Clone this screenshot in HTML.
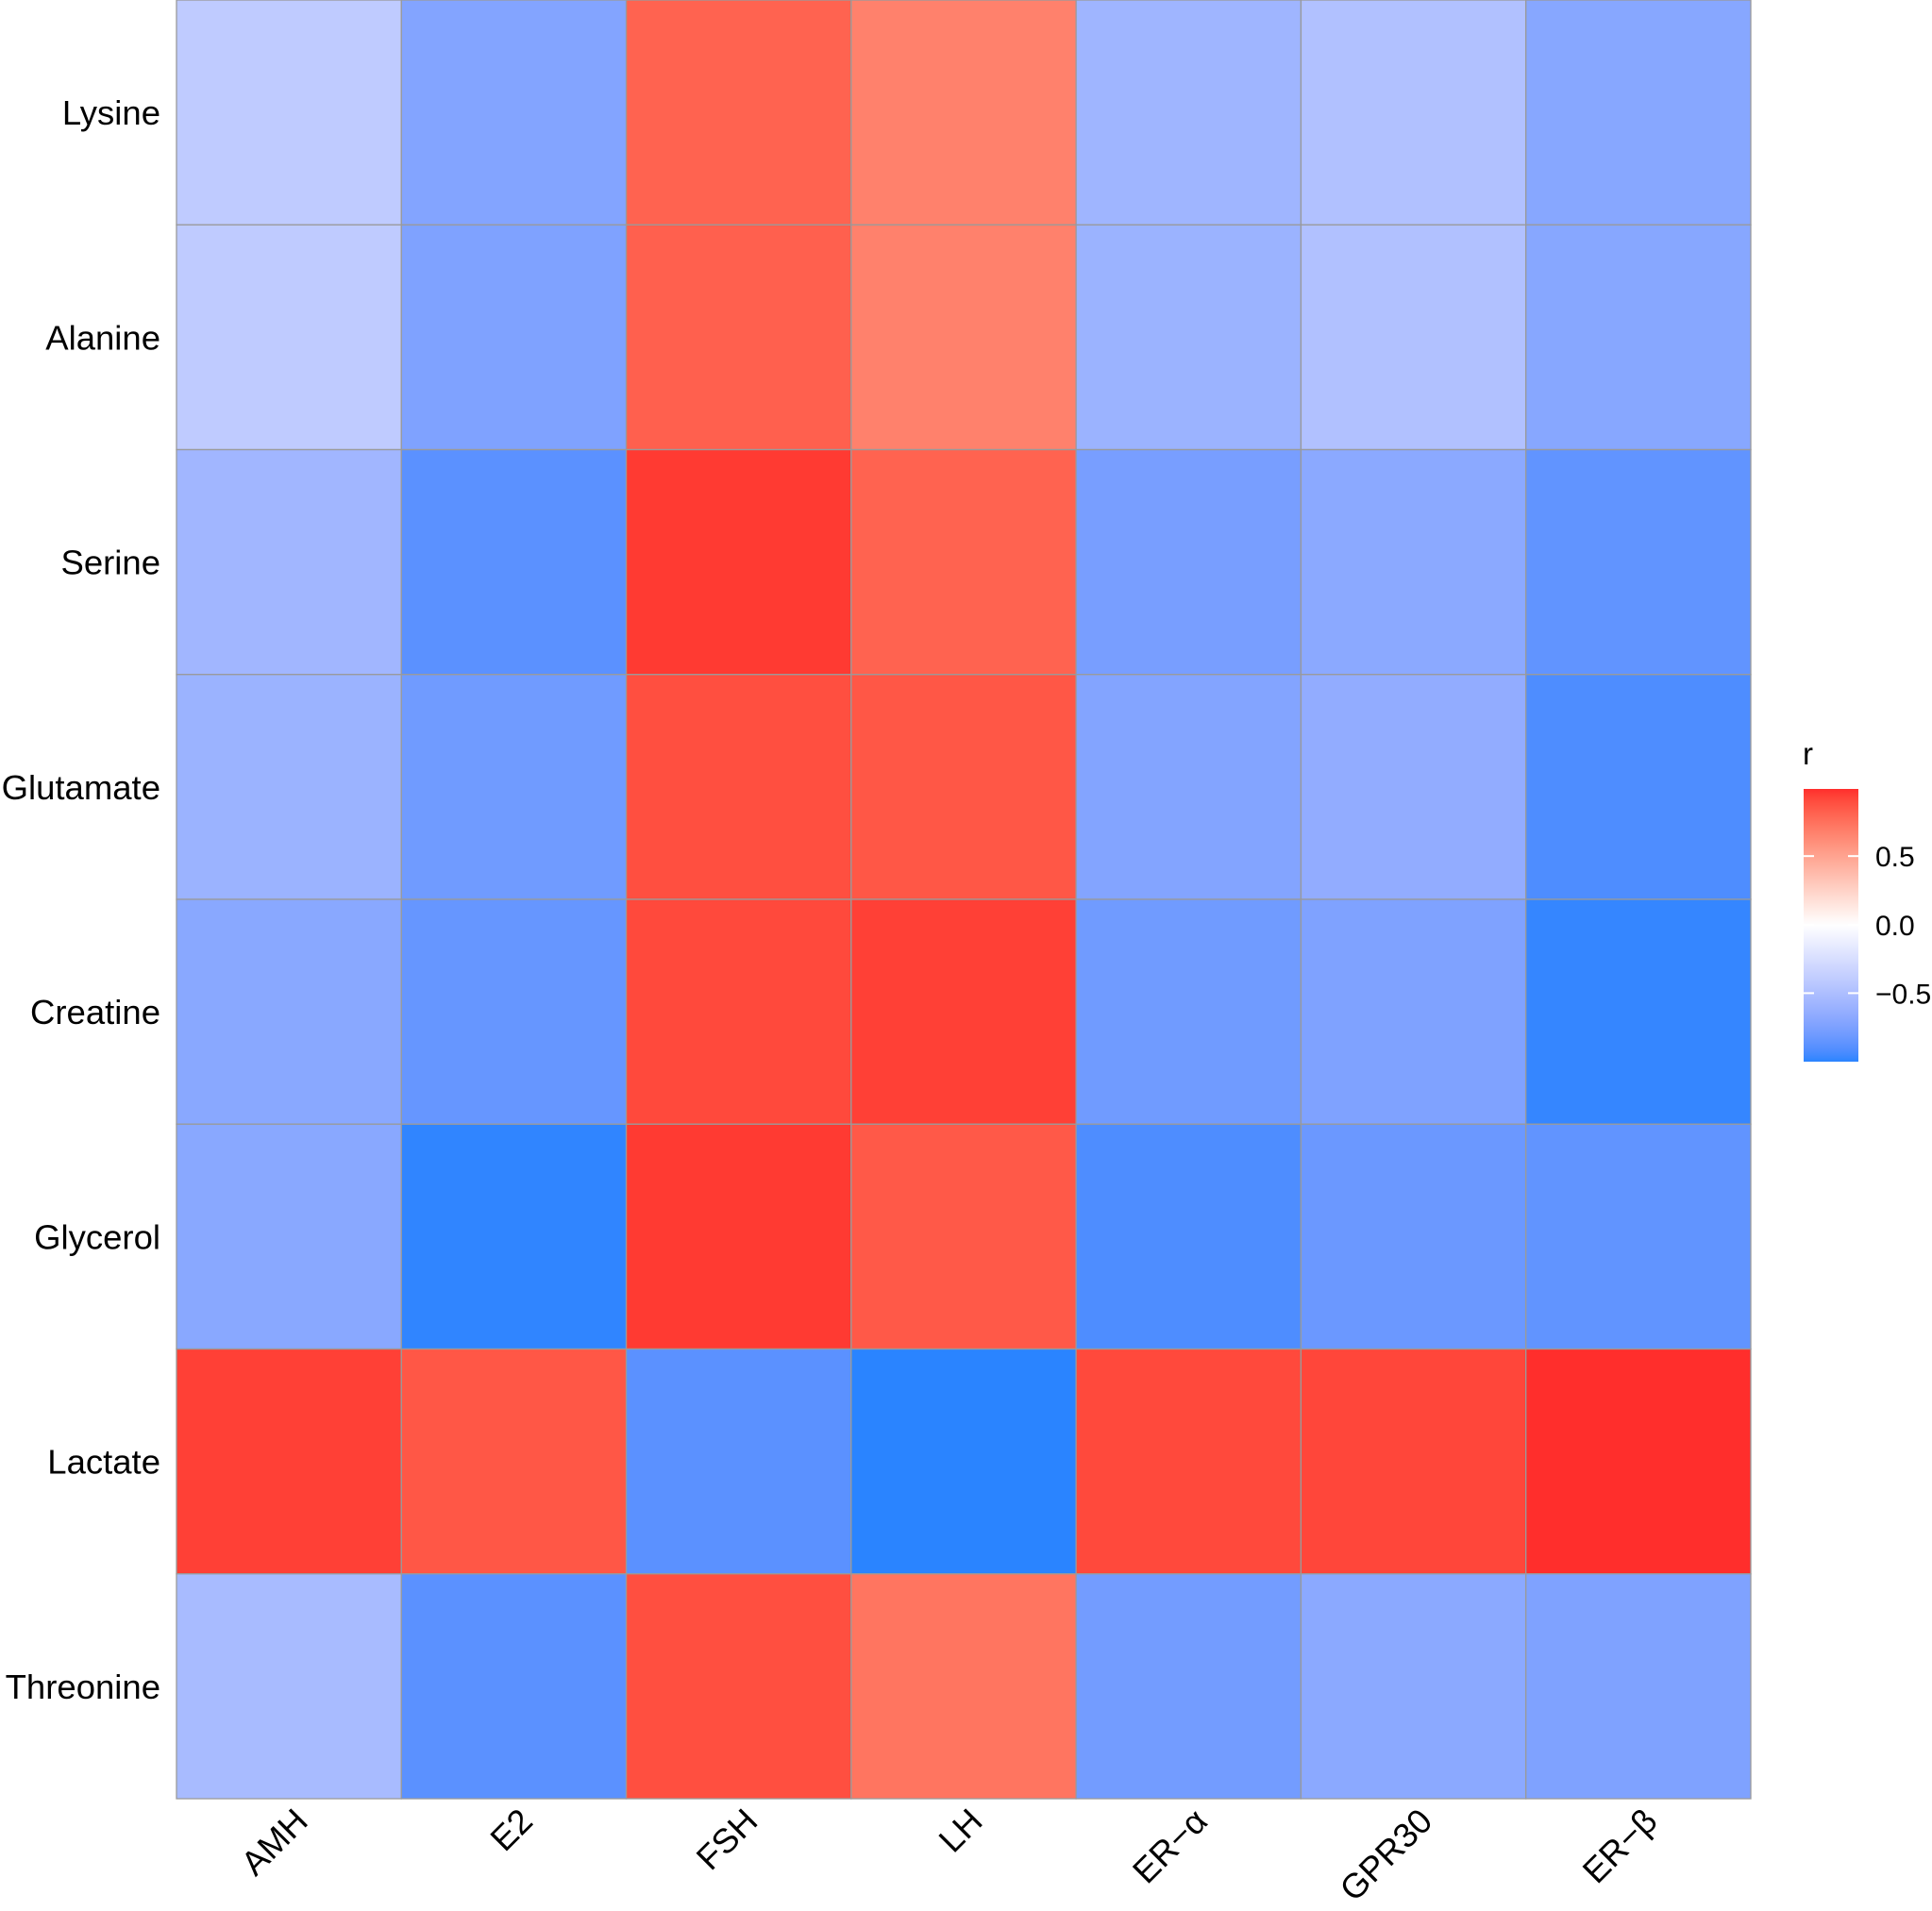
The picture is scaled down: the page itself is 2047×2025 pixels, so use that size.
<!DOCTYPE html>
<html><head><meta charset="utf-8"><style>
html,body{margin:0;padding:0;background:#fff;}
svg{display:block;font-family:"Liberation Sans",sans-serif;}
</style></head><body>
<svg id="chart" width="2047" height="2025" viewBox="0 0 2047 2025" xmlns="http://www.w3.org/2000/svg">
<defs><linearGradient id="lg" x1="0" y1="1" x2="0" y2="0"></linearGradient></defs>
<g id="cells"></g>
<g id="ylab"></g>
<g id="xlab"></g>
<g id="legend"></g>
</svg>
<script>
const rows = ["Lysine","Alanine","Serine","Glutamate","Creatine","Glycerol","Lactate","Threonine"];
const cols = ["AMH","E2","FSH","LH","ER\u2212\u03B1","GPR30","ER\u2212\u03B2"];
const vLysine    = [-0.40,-0.72, 0.81, 0.67,-0.58,-0.48,-0.70];
const vAlanine   = [-0.40,-0.74, 0.82, 0.67,-0.60,-0.48,-0.70];
const vSerine    = [-0.57,-0.88, 0.96, 0.81,-0.77,-0.68,-0.86];
const vGlutamate = [-0.60,-0.80, 0.89, 0.86,-0.72,-0.65,-0.92];
const vCreatine  = [-0.69,-0.84, 0.91, 0.94,-0.80,-0.74,-0.98];
const vGlycerol  = [-0.69,-0.99, 0.96, 0.85,-0.92,-0.82,-0.86];
const vLactate   = [ 0.94, 0.86,-0.88,-1.00, 0.91, 0.92, 0.99];
const vThreonine = [-0.53,-0.88, 0.89, 0.73,-0.79,-0.68,-0.74];
const values = [vLysine,vAlanine,vSerine,vGlutamate,vCreatine,vGlycerol,vLactate,vThreonine];
const legendTicks = [0.5, 0.0, -0.5];
const legendTickLabels = ["0.5","0.0","\u22120.5"];
const rMin = -1.0, rMax = 0.99;

const NS="http://www.w3.org/2000/svg";
const X0=187,X1=1855,Y0=0,Y1=1906;
const cw=(X1-X0)/cols.length, ch=(Y1-Y0)/rows.length;
const xs=i=>X0+i*cw, ys=j=>Y0+j*ch;

function hex2rgb(h){return [1,3,5].map(i=>parseInt(h.substr(i,2),16));}
function toLin(c){c/=255;return c<=0.04045?c/12.92:Math.pow((c+0.055)/1.055,2.4);}
function fromLin(c){c=c<=0.0031308?12.92*c:1.055*Math.pow(c,1/2.4)-0.055;return Math.max(0,Math.min(255,Math.round(c*255)));}
function rgb2lab(rgb){const [r,g,b]=rgb.map(toLin);
 let x=(r*0.4124+g*0.3576+b*0.1805)/0.95047,y=r*0.2126+g*0.7152+b*0.0722,z=(r*0.0193+g*0.1192+b*0.9505)/1.08883;
 const f=t=>t>0.008856?Math.cbrt(t):7.787*t+16/116;
 const fx=f(x),fy=f(y),fz=f(z);return [116*fy-16,500*(fx-fy),200*(fy-fz)];}
function lab2rgb(l){const fy=(l[0]+16)/116,fx=fy+l[1]/500,fz=fy-l[2]/200;
 const fi=t=>t*t*t>0.008856?t*t*t:(t-16/116)/7.787;
 const x=fi(fx)*0.95047,y=fi(fy),z=fi(fz)*1.08883;
 const r=x*3.2406-y*1.5372-z*0.4986,g=-x*0.9689+y*1.8758+z*0.0415,b=x*0.0557-y*0.2040+z*1.0570;
 return `rgb(${fromLin(r)},${fromLin(g)},${fromLin(b)})`;}
const LOW=rgb2lab(hex2rgb("#2A84FF")),MID=rgb2lab(hex2rgb("#FFFFFF")),HIGH=rgb2lab(hex2rgb("#FF2A2A"));
function color(v){let a,b,t;if(v>=0){a=MID;b=HIGH;t=Math.min(1,v/1);}else{a=MID;b=LOW;t=Math.min(1,-v/1);}
 return lab2rgb(a.map((c,i)=>c+(b[i]-c)*t));}

const cells=document.getElementById('cells');
values.forEach((row,j)=>row.forEach((v,i)=>{
 const r=document.createElementNS(NS,'rect');
 r.setAttribute('x',xs(i));r.setAttribute('y',ys(j));
 r.setAttribute('width',cw);r.setAttribute('height',ch);
 r.setAttribute('fill',color(v));r.setAttribute('stroke','#9a9a9a');r.setAttribute('stroke-width','1.3');
 
 
 cells.appendChild(r);
}));
const yl=document.getElementById('ylab');
rows.forEach((n,j)=>{const t=document.createElementNS(NS,'text');
 t.setAttribute('x',170);t.setAttribute('y',ys(j)+ch/2+13);t.setAttribute('text-anchor','end');t.setAttribute('font-size','36.5');
 t.textContent=n;
 
 
 yl.appendChild(t);});
const xl=document.getElementById('xlab');
cols.forEach((n,i)=>{const t=document.createElementNS(NS,'text');
 const cx=xs(i)+cw/2+22,cy=1932;
 t.setAttribute('x',cx);t.setAttribute('y',cy);t.setAttribute('text-anchor','end');t.setAttribute('font-size','36.5');
 t.setAttribute('transform',`rotate(-45 ${cx} ${cy})`);
 t.textContent=n;
 
 
 xl.appendChild(t);});
const LX=1911,LW=58,LT=836,LB=1125;
const ly=v=>LB-(v-rMin)/(rMax-rMin)*(LB-LT);
const lg=document.getElementById('lg');
for(let k=0;k<=40;k++){const v=rMin+(rMax-rMin)*k/40;const s=document.createElementNS(NS,'stop');
 s.setAttribute('offset',(k/40));s.setAttribute('stop-color',color(v));lg.appendChild(s);}
const leg=document.getElementById('legend');
const title=document.createElementNS(NS,'text');
title.setAttribute('x',1910);title.setAttribute('y',810);title.setAttribute('font-size','33');title.textContent='r';


leg.appendChild(title);
const bar=document.createElementNS(NS,'rect');
bar.setAttribute('x',LX);bar.setAttribute('y',LT);bar.setAttribute('width',LW);bar.setAttribute('height',LB-LT);bar.setAttribute('fill','url(#lg)');


leg.appendChild(bar);
legendTicks.forEach((v,k)=>{const y=ly(v);
 [[LX,LX+11],[LX+LW-11,LX+LW]].forEach(([a,b])=>{const l=document.createElementNS(NS,'line');
  l.setAttribute('x1',a);l.setAttribute('x2',b);l.setAttribute('y1',y);l.setAttribute('y2',y);l.setAttribute('stroke','#fff');l.setAttribute('stroke-width','2');
  
  
  leg.appendChild(l);});
 const t=document.createElementNS(NS,'text');t.setAttribute('x',1987);t.setAttribute('y',y+11);t.setAttribute('font-size','30');
 t.textContent=legendTickLabels[k];
 
 
 leg.appendChild(t);});
</script>
</body></html>
